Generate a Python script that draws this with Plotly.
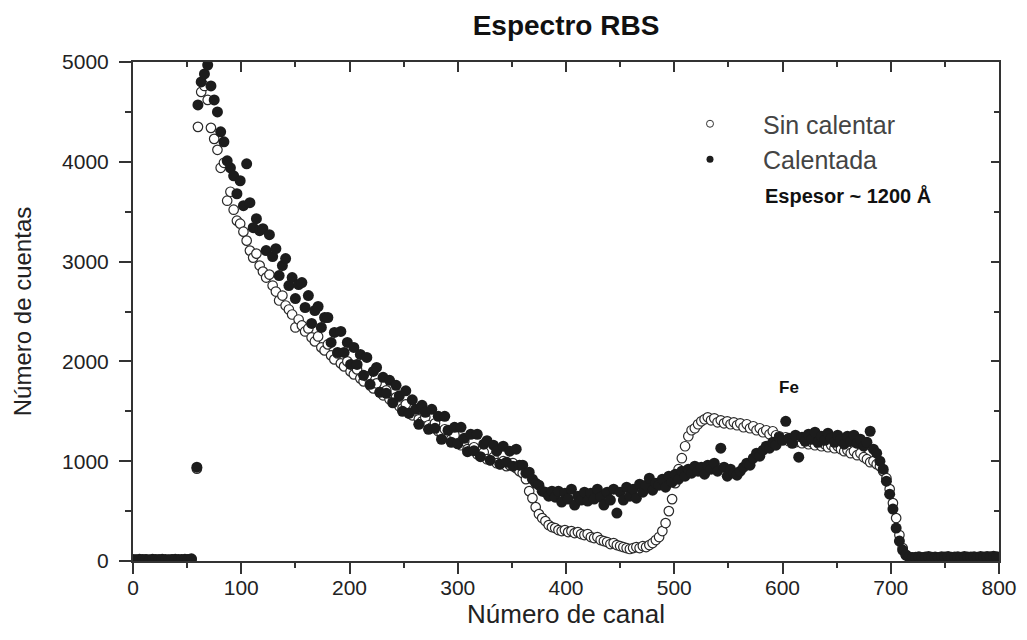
import plotly.graph_objects as go

STEP = 3  # channel spacing of the sampled spectrum

# ---- "Calentada" (filled circles) ----
base_start = 0
calentada_base = [15, 12, 18, 14, 16, 13, 17, 15, 14, 18, 16, 13, 15, 17, 14, 16, 18, 15, 22]
spike_ch = [59]
calentada_spike = [940]
main_start = 60
calentada_main = [
    4570, 4800, 4880, 4970, 4760, 4620, 4500, 4300, 4200, 4010,
    3940, 3860, 3680, 3810, 3560, 3980, 3590, 3340, 3430, 3310,
    3330, 3110, 3270, 3050, 3130, 2860, 2960, 3030, 2760, 2840,
    2630, 2770, 2790, 2540, 2660, 2380, 2510, 2550, 2340, 2440,
    2440, 2190, 2290, 2090, 2300, 2090, 2190, 1970, 2140, 1970,
    2070, 1860, 2040, 1770, 1900, 1940, 1690, 1840, 1680, 1810,
    1585, 1760, 1655, 1500, 1705, 1480, 1615, 1520, 1370, 1560,
    1490, 1320, 1520, 1330, 1450, 1220, 1450, 1310, 1190, 1340,
    1175, 1340, 1230, 1095, 1270, 1105, 1270, 1045, 1170, 1205,
    1010, 1160, 1100, 970, 1150, 990, 1100, 950, 1120, 960,
    960, 880, 890, 820, 780, 760, 700, 690, 650, 700,
    640, 700, 590, 680, 620, 720, 560, 650, 610, 690,
    600, 680, 620, 720, 640, 560, 690, 610, 720, 480,
    690, 610, 740, 650, 720, 630, 770, 690, 760, 830,
    710, 780, 760, 820, 740, 850, 790, 870, 820, 900,
    850, 920, 880, 950, 900, 940, 870, 960, 920, 980,
    900, 1130, 940, 850, 920, 880, 860, 900, 940, 980,
    960, 1030, 1080, 1050, 1110, 1150, 1130, 1190, 1160, 1240,
    1210, 1400, 1230, 1180, 1260, 1040, 1240, 1200, 1270, 1220,
    1290, 1190, 1250, 1210, 1280, 1230, 1190, 1260, 1220, 1170,
    1250, 1200, 1260, 1180, 1220, 1150, 1190, 1300, 1120, 1080,
    1000, 920, 800, 670, 520, 330, 200, 110, 60, 40,
    35,
]
tail_start = 723
calentada_tail = [38, 42, 35, 40, 45, 37, 41, 36, 43, 39, 44, 38, 40,
                  42, 37, 45, 41, 39, 43, 38, 46, 40, 44, 42, 47, 43]

# ---- "Sin calentar" (open circles) ----
sin_base = [10, 12, 9, 11, 13, 10, 12, 11, 9, 12, 10, 11, 13, 10, 12, 11, 10, 13, 16]
sin_spike = [925]
sin_main = [
    4350, 4700, 4760, 4620, 4340, 4230, 4120, 3940, 3990, 3610,
    3700, 3520, 3410, 3380, 3300, 3210, 3110, 3040, 3080, 2960,
    2900, 2840, 2870, 2760, 2700, 2610, 2660, 2560, 2520, 2470,
    2340, 2420, 2360, 2300, 2330, 2240, 2200, 2250, 2140, 2110,
    2170, 2060, 2020, 2080, 1980, 1950, 2000, 1900, 1870, 1920,
    1830, 1800, 1850, 1760, 1730, 1780, 1690, 1660, 1710, 1620,
    1600, 1640, 1550, 1530, 1570, 1480, 1460, 1500, 1420, 1400,
    1440, 1360, 1340, 1380, 1300, 1280, 1320, 1240, 1220, 1260,
    1180, 1160, 1200, 1120, 1110, 1140, 1070, 1060, 1090, 1020,
    1010, 1040, 980, 970, 1000, 950, 960, 980, 930, 900,
    880, 820, 700, 630, 540, 470, 430, 400, 360, 340,
    330, 310, 300, 310, 290, 300, 280, 290, 270, 260,
    270, 240, 230, 240, 210, 200, 190, 170, 180, 160,
    150, 140, 130, 120, 130, 140, 130, 150, 140, 160,
    180, 210, 240, 300, 380, 500, 620, 780, 920, 1030,
    1150, 1250, 1310, 1330, 1370, 1400, 1420, 1440, 1410, 1430,
    1390, 1410, 1380, 1400, 1370, 1390, 1360, 1380, 1340, 1370,
    1330, 1350, 1310, 1330, 1290, 1310, 1270, 1300, 1260, 1250,
    1220, 1240, 1200, 1220, 1190, 1210, 1180, 1200, 1170, 1190,
    1160, 1180, 1150, 1170, 1140, 1160, 1130, 1150, 1120, 1100,
    1110, 1080, 1100, 1060, 1080, 1040, 1020, 990, 1000, 970,
    950, 900, 830, 720, 580, 430, 260, 130, 60, 35,
    30,
]
sin_tail = [28, 32, 27, 30, 33, 29, 31, 28, 34, 30, 29, 32, 27,
            31, 33, 29, 30, 28, 32, 31, 29, 33, 30, 28, 31, 30]

x_ticks = [0, 100, 200, 300, 400, 500, 600, 700, 800]
y_ticks = [0, 1000, 2000, 3000, 4000, 5000]


def channels(start, vals):
    return [start + STEP * k for k in range(len(vals))]


def series(base, spike, main, tail):
    xs = channels(base_start, base) + spike_ch + channels(main_start, main) + channels(tail_start, tail)
    ys = base + spike + main + tail
    return xs, ys


x_sin, y_sin = series(sin_base, sin_spike, sin_main, sin_tail)
x_cal, y_cal = series(calentada_base, calentada_spike, calentada_main, calentada_tail)

FONT = "Liberation Sans, Arial, Helvetica, sans-serif"
INK = "#1c1c1c"
AXC = "#333333"

# The page body has an 8px margin, so the figure is sized to fit the window.
W, H = 1019, 632
ML, MR, MT, MB = 125, 28, 54, 79
PW, PH = W - ML - MR, H - MT - MB

fig = go.Figure()
fig.add_trace(go.Scatter(
    x=x_sin, y=y_sin, mode="markers", showlegend=False, name="Sin calentar",
    marker=dict(symbol="circle", size=9.5, color="white", line=dict(color="#2a2a2a", width=1.2)),
))
fig.add_trace(go.Scatter(
    x=x_cal, y=y_cal, mode="markers", showlegend=False, name="Calentada",
    marker=dict(symbol="circle", size=11, color=INK, line=dict(width=0)),
))
# legend entries (also make the top/right frame axes render)
fig.add_trace(go.Scatter(
    x=[None], y=[None], mode="markers", name="Sin calentar", xaxis="x2", yaxis="y2",
    marker=dict(symbol="circle", size=7, color="white", line=dict(color="#333", width=1)),
))
fig.add_trace(go.Scatter(
    x=[None], y=[None], mode="markers", name="Calentada", xaxis="x2", yaxis="y2",
    marker=dict(symbol="circle", size=7, color=INK, line=dict(width=0)),
))


def px_x(p):
    return (p - 8 - ML) / PW


def px_y(p):
    return (MT + PH - (p - 8)) / PH


fig.update_layout(
    width=W, height=H,
    margin=dict(l=ML, r=MR, t=MT, b=MB),
    paper_bgcolor="white", plot_bgcolor="white",
    font=dict(family=FONT, color="#222"),
    title=dict(text="<b>Espectro RBS</b>", x=0.5, xref="paper", xanchor="center",
               y=1 - 17 / H, yref="container", yanchor="middle",
               font=dict(size=28, color="#111", family=FONT)),
    showlegend=True,
    legend=dict(x=px_x(657), y=px_y(101), xanchor="left", yanchor="top",
                bgcolor="rgba(0,0,0,0)", borderwidth=0, itemwidth=96,
                font=dict(size=25, color="#444", family=FONT), tracegroupgap=0),
    xaxis=dict(range=[0, 800], tickvals=x_ticks, ticks="outside", ticklen=11, tickwidth=2,
               tickcolor=AXC, showline=True, linecolor=AXC, linewidth=2,
               showgrid=False, zeroline=False, tickfont=dict(size=21, color="#222"),
               ticklabelstandoff=-4,
               minor=dict(ticks="outside", dtick=50, ticklen=5, tickwidth=2, tickcolor=AXC),
               title=dict(text="Número de canal", font=dict(size=26, color="#222"), standoff=0),
               automargin=False),
    yaxis=dict(range=[0, 5000], tickvals=y_ticks, ticks="outside", ticklen=12, tickwidth=2,
               tickcolor=AXC, showline=True, linecolor=AXC, linewidth=2,
               showgrid=False, zeroline=False, tickfont=dict(size=21, color="#222"),
               ticklabelstandoff=6,
               minor=dict(ticks="outside", dtick=500, ticklen=6, tickwidth=2, tickcolor=AXC),
               title=dict(text="Número de cuentas", font=dict(size=24, color="#222"), standoff=24),
               automargin=False),
    xaxis2=dict(range=[0, 800], overlaying="x", side="top", anchor="y2", tickvals=x_ticks,
                ticks="inside", ticklen=10, tickwidth=2, tickcolor=AXC, showticklabels=False,
                showline=True, linecolor=AXC, linewidth=2, showgrid=False, zeroline=False,
                minor=dict(ticks="inside", dtick=50, ticklen=5, tickwidth=2, tickcolor=AXC)),
    yaxis2=dict(range=[0, 5000], overlaying="y", side="right", anchor="x2", tickvals=y_ticks,
                ticks="inside", ticklen=8, tickwidth=2, tickcolor=AXC, showticklabels=False,
                showline=True, linecolor=AXC, linewidth=2, showgrid=False, zeroline=False,
                minor=dict(ticks="inside", dtick=500, ticklen=5, tickwidth=2, tickcolor=AXC)),
    annotations=[
        dict(text="<b>Espesor ~ 1200 Å</b>", xref="paper", yref="paper",
             x=px_x(763), y=px_y(195), xanchor="left", yanchor="middle",
             showarrow=False, font=dict(size=20, color="#111", family=FONT)),
        dict(text="<b>Fe</b>", xref="x", yref="y", x=606, y=1740,
             xanchor="center", yanchor="middle", showarrow=False,
             font=dict(size=17, color="#111", family=FONT)),
    ],
)

fig.write_html("out.html")
